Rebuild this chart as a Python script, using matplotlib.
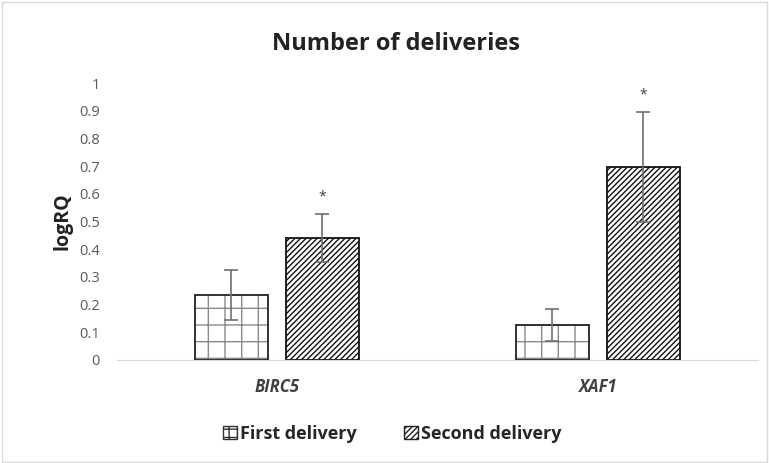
import matplotlib
matplotlib.use("Agg")
import matplotlib.pyplot as plt
import numpy as np
from matplotlib.patches import Rectangle, Patch

categories = ["BIRC5", "XAF1"]
series_names = ["First delivery", "Second delivery"]
first_vals = [0.235, 0.126]
first_err = [0.09, 0.058]
second_vals = [0.441, 0.697]
second_err = [0.088, 0.2]
star_second = [True, True]

plt.rcParams['font.family'] = ['Open Sans', 'DejaVu Sans']
plt.rcParams['hatch.linewidth'] = 1.0

fig = plt.figure(figsize=(7.69, 4.63), dpi=100)
ax = fig.add_axes([0.1515, 0.2225, 0.8345, 0.598])

x = np.arange(len(categories))
w = 0.227
off = 0.142
tc = '#595959'

# first delivery: light grid hatch + dark outline
ax.bar(x - off, first_vals, w, facecolor='white', edgecolor='#8a8a8a', linewidth=0,
       hatch='+', zorder=2)
ax.bar(x - off, first_vals, w, facecolor='none', edgecolor='#222222', linewidth=1.3, zorder=3)
ax.bar(x + off, second_vals, w, facecolor='white', edgecolor='#111111', linewidth=1.3,
       hatch='//////', zorder=2)
ax.errorbar(x - off, first_vals, yerr=first_err, fmt='none', ecolor='#707070', elinewidth=1.2,
            capsize=5, capthick=1.2, zorder=4)
ax.errorbar(x + off, second_vals, yerr=second_err, fmt='none', ecolor='#707070', elinewidth=1.2,
            capsize=5, capthick=1.2, zorder=4)
for i, s in enumerate(star_second):
    if s:
        ax.text(x[i] + off, second_vals[i] + second_err[i] + 0.06, '*', ha='center', va='center',
                fontsize=10, color='#404040')

ax.set_xlim(-0.5, 1.5)
ax.set_ylim(0, 1)
ax.set_yticks(np.arange(0, 1.01, 0.1))
ax.set_yticklabels(['0', '0.1', '0.2', '0.3', '0.4', '0.5', '0.6', '0.7', '0.8', '0.9', '1'])
ax.set_xticks(x)
ax.set_xticklabels(categories, fontstyle='italic', fontweight='bold', fontsize=12)
for lbl in ax.get_xticklabels():
    lbl.set_color('#404040')
ax.tick_params(axis='y', length=0, colors=tc, pad=12, labelsize=10.5)
ax.tick_params(axis='x', length=0, pad=13)
for s in ['top', 'right', 'left']:
    ax.spines[s].set_visible(False)
ax.spines['bottom'].set_color('#d9d9d9')
ax.set_ylabel('logRQ', fontsize=14, fontweight='bold', color='#222222', labelpad=5)
fig.text(0.515, 0.906, 'Number of deliveries', ha='center', va='center', fontsize=17,
         fontweight='bold', color='#222222')

handles = [Patch(facecolor='white', edgecolor='#333333', hatch='++', label=series_names[0]),
           Patch(facecolor='white', edgecolor='#222222', hatch='//////', label=series_names[1])]
leg = ax.legend(handles=handles, loc='upper center', bbox_to_anchor=(0.43, -0.175), ncol=2,
                frameon=False, fontsize=13, handlelength=0.75, handleheight=0.75,
                handletextpad=0.2, columnspacing=2.6, labelcolor='#262626')
for t in leg.get_texts():
    t.set_fontweight('bold')

fig.patches.append(Rectangle((0.002, 0.002), 0.996, 0.994, transform=fig.transFigure,
                             fill=False, edgecolor='#d9d9d9', linewidth=1))
fig.savefig('out.png', dpi=100)
